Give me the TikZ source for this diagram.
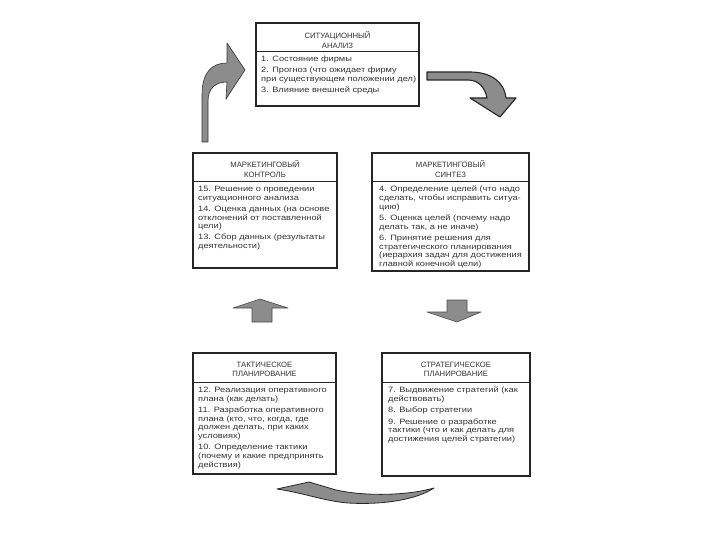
\documentclass[tikz,border=0pt]{standalone}
\usepackage{fontspec}
\setmainfont{Liberation Sans}
\newfontfamily\widefont[FakeStretch=1.2]{Liberation Sans}
\begin{document}
\begin{tikzpicture}[x=1pt,y=-1pt,
  frame/.style={draw=black!85, line width=1.4pt, inner sep=0pt, outer sep=0pt, anchor=north west},
  hline/.style={draw=black!85, line width=1pt},
  hdr/.style={font=\fontsize{7.7}{9.3}\selectfont, align=center, text=black!80, inner sep=0pt},
  bodytxt/.style={font=\widefont\fontsize{7.7}{8.7}\selectfont, align=left, anchor=north west, inner sep=0pt, text=black!80},
  garrow/.style={fill=black!45, draw=black!70, line width=0.6pt, line join=round},
  darrow/.style={fill=black!45, draw=black!85, line width=1.1pt, line join=round}
]
\useasboundingbox (0,0) rectangle (720,540);

% ---- top box
\node[frame, minimum width=163pt, minimum height=83pt] (sit) at (256,23) {};
\draw[hline] ([yshift=-29pt]sit.north west) -- ([yshift=-29pt]sit.north east);
\node[hdr] (sith) at ([yshift=-17pt]sit.north) {СИТУАЦИОННЫЙ\\АНАЛИЗ};
\node[bodytxt] (sitb) at ([xshift=5pt,yshift=-33pt]sit.north west)
 {1. Состояние фирмы\\[2.5pt]2. Прогноз (что ожидает фирму\\при существующем положении дел)\\[2.5pt]3. Влияние внешней среды};

% ---- left middle box
\node[frame, minimum width=144pt, minimum height=115pt] (ctl) at (193,153) {};
\draw[hline] ([yshift=-29pt]ctl.north west) -- ([yshift=-29pt]ctl.north east);
\node[hdr] (ctlh) at ([yshift=-16pt]ctl.north) {МАРКЕТИНГОВЫЙ\\КОНТРОЛЬ};
\node[bodytxt] (ctlb) at ([xshift=5pt,yshift=-33pt]ctl.north west)
 {15. Решение о проведении\\ситуационного анализа\\[2.5pt]14. Оценка данных (на основе\\отклонений от поставленной\\цели)\\[2.5pt]13. Сбор данных (результаты\\деятельности)};

% ---- right middle box
\node[frame, minimum width=157pt, minimum height=118pt] (syn) at (372,153) {};
\draw[hline] ([yshift=-29pt]syn.north west) -- ([yshift=-29pt]syn.north east);
\node[hdr] (synh) at ([yshift=-16pt]syn.north) {МАРКЕТИНГОВЫЙ\\СИНТЕЗ};
\node[bodytxt] (synb) at ([xshift=7pt,yshift=-33pt]syn.north west)
 {4. Определение целей (что надо\\сделать, чтобы исправить ситуа-\\цию)\\[2.5pt]5. Оценка целей (почему надо\\делать так, а не иначе)\\[2.5pt]6. Принятие решения для\\стратегического планирования\\(иерархия задач для достижения\\главной конечной цели)};

% ---- bottom left box
\node[frame, minimum width=143pt, minimum height=121pt] (tac) at (193,353) {};
\draw[hline] ([yshift=-29pt]tac.north west) -- ([yshift=-29pt]tac.north east);
\node[hdr] (tach) at ([yshift=-16pt]tac.north) {ТАКТИЧЕСКОЕ\\ПЛАНИРОВАНИЕ};
\node[bodytxt] (tacb) at ([xshift=5pt,yshift=-34pt]tac.north west)
 {12. Реализация оперативного\\плана (как делать)\\[2.5pt]11. Разработка оперативного\\плана (кто, что, когда, где\\должен делать, при каких\\условиях)\\[2.5pt]10. Определение тактики\\(почему и какие предпринять\\действия)};

% ---- bottom right box
\node[frame, minimum width=148pt, minimum height=123pt] (str) at (382,353) {};
\draw[hline] ([yshift=-29pt]str.north west) -- ([yshift=-29pt]str.north east);
\node[hdr] (strh) at ([yshift=-16pt]str.north) {СТРАТЕГИЧЕСКОЕ\\ПЛАНИРОВАНИЕ};
\node[bodytxt] (strb) at ([xshift=6pt,yshift=-34pt]str.north west)
 {7. Выдвижение стратегий (как\\действовать)\\[2.5pt]8. Выбор стратегии\\[2.5pt]9. Решение о разработке\\тактики (что и как делать для\\достижения целей стратегии)};

% ---- arrows
% top-left curved arrow (up then right)
\path[garrow, draw=black!80] (202,142) -- (202,95) .. controls (202,72) and (212,63) .. (227,63)
  -- (227,43) -- (245,70) -- (226,99) -- (227,82)
  .. controls (216,82) and (208,88) .. (208,101) -- (208,142) -- cycle;

% top-right curved arrow (right then down)
\path[darrow] (427,72) -- (470,72) .. controls (490,72) and (504,81) .. (506,98)
  -- (516,98) -- (500,117) -- (470,98) -- (487,98)
  .. controls (485,87) and (478,80) .. (468,80) -- (427,80) -- cycle;

% up arrow
\path[garrow] (252,322) -- (252,308) -- (233,308) -- (260,299) -- (288,308)
  -- (272,308) -- (272,322) -- cycle;

% down arrow
\path[garrow] (447,300) -- (467,300) -- (467,312) -- (481,312) -- (457,322)
  -- (427,312) -- (447,312) -- cycle;

% bottom swoosh arrow
\path[darrow, line width=0.8pt] (277,489) -- (309,482) -- (336,490)
  .. controls (368,497) and (410,495) .. (434,488)
  .. controls (416,500) and (382,505) .. (348,503)
  .. controls (324,501) and (304,493) .. (277,489) -- cycle;
\end{tikzpicture}
\end{document}
